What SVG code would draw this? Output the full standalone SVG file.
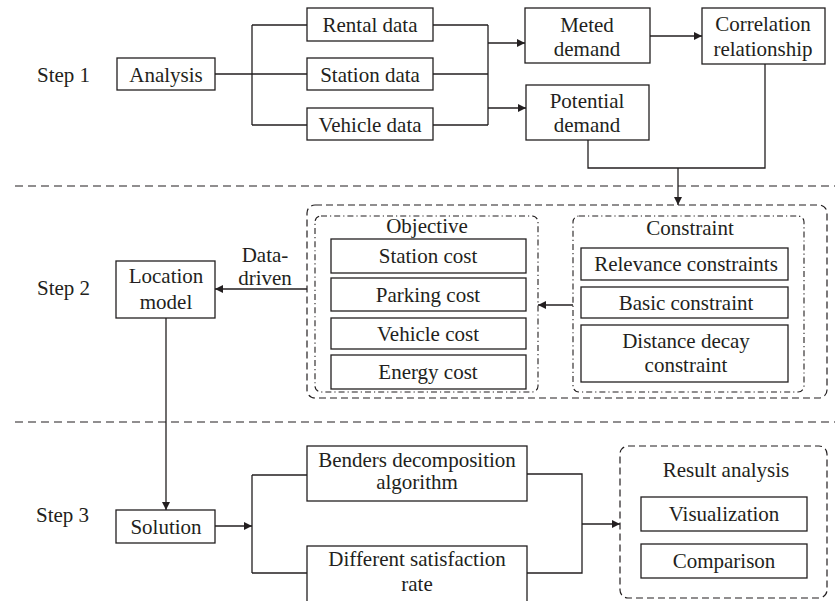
<svg xmlns="http://www.w3.org/2000/svg" width="835" height="601" viewBox="0 0 835 601">
<defs>
<marker id="ah" viewBox="0 0 10 10" refX="10" refY="5" markerWidth="8" markerHeight="8" markerUnits="userSpaceOnUse" orient="auto">
<path d="M0,0 L10,5 L0,10 Z" fill="#231f20"/>
</marker>
</defs>
<style>
text{font-family:"Liberation Serif","Times New Roman",serif;font-size:21px;fill:#231f20;text-anchor:middle}
.box{fill:#fff;stroke:#231f20;stroke-width:1.3}
.ln{fill:none;stroke:#231f20;stroke-width:1.3}
.arr{fill:none;stroke:#231f20;stroke-width:1.3;marker-end:url(#ah)}
.sep{fill:none;stroke:#231f20;stroke-width:1.2;stroke-dasharray:8 5}
.dash{fill:none;stroke:#231f20;stroke-width:1.2;stroke-dasharray:7 4}
.dd{fill:none;stroke:#231f20;stroke-width:1.1;stroke-dasharray:6 3 1.2 3}
.lbl{text-anchor:start}
</style>
<rect width="835" height="601" fill="#fff"/>
<g id="separators">
<line class="sep" x1="15" y1="186" x2="835" y2="186"/>
<line class="sep" x1="15" y1="422" x2="835" y2="422"/>
</g>
<g id="steps">
<text class="lbl" x="37" y="82">Step 1</text>
<text class="lbl" x="37" y="295">Step 2</text>
<text class="lbl" x="36" y="522">Step 3</text>
</g>
<g id="connectors">
<path class="ln" d="M215,74 H307 M252,25 V125 M252,25 H307 M252,125 H307"/>
<path class="ln" d="M433,25 H488 M433,74 H488 M433,125 H488 M488,25 V125"/>
<path class="arr" d="M488,43 H525"/>
<path class="arr" d="M488,108 H526"/>
<path class="arr" d="M650,36 H702"/>
<path class="ln" d="M588,140 V168 H765 V64"/>
<path class="arr" d="M678,168 V205"/>
<path class="arr" d="M307,289 H215"/>
<path class="arr" d="M573,305 H538"/>
<path class="arr" d="M166,318 V510"/>
<path class="arr" d="M215,526 H252"/>
<path class="ln" d="M252,475 V573 M252,475 H307 M252,573 H307"/>
<path class="ln" d="M527,474 H582 V573 H527"/>
<path class="arr" d="M582,524 H620"/>
</g>
<g id="analysis"><rect class="box" x="117" y="58" width="98" height="32"/><text x="166" y="82">Analysis</text></g>
<g id="rental"><rect class="box" x="307" y="8" width="126" height="33"/><text x="370" y="32">Rental data</text></g>
<g id="station"><rect class="box" x="307" y="58" width="126" height="32"/><text x="370" y="82">Station data</text></g>
<g id="vehicle"><rect class="box" x="307" y="108" width="126" height="32"/><text x="370" y="132">Vehicle data</text></g>
<g id="meted"><rect class="box" x="525" y="8" width="125" height="55"/><text x="587" y="32">Meted</text><text x="587" y="56">demand</text></g>
<g id="potential"><rect class="box" x="526" y="85" width="123" height="55"/><text x="587" y="108">Potential</text><text x="587" y="132">demand</text></g>
<g id="correlation"><rect class="box" x="702" y="8" width="123" height="56"/><text x="763" y="31">Correlation</text><text x="763" y="56">relationship</text></g>
<g id="model-group">
<rect class="dash" x="307" y="205" width="520" height="193" rx="8"/>
</g>
<g id="objective">
<rect class="dd" x="315" y="216" width="223" height="176" rx="6"/>
<text x="427" y="233">Objective</text>
</g>
<g id="station-cost"><rect class="box" x="331" y="239" width="195" height="34"/><text x="428" y="263">Station cost</text></g>
<g id="parking-cost"><rect class="box" x="331" y="278" width="195" height="33"/><text x="428" y="302">Parking cost</text></g>
<g id="vehicle-cost"><rect class="box" x="331" y="318" width="195" height="31"/><text x="428" y="341">Vehicle cost</text></g>
<g id="energy-cost"><rect class="box" x="331" y="355" width="195" height="34"/><text x="428" y="379">Energy cost</text></g>
<g id="constraint">
<rect class="dd" x="573" y="216" width="231" height="176" rx="6"/>
<text x="690" y="235">Constraint</text>
</g>
<g id="relevance"><rect class="box" x="581" y="248" width="207" height="32"/><text x="686" y="271">Relevance constraints</text></g>
<g id="basic"><rect class="box" x="581" y="287" width="207" height="31"/><text x="686" y="310">Basic constraint</text></g>
<g id="distance"><rect class="box" x="581" y="325" width="207" height="57"/><text x="686" y="348">Distance decay</text><text x="686" y="372">constraint</text></g>
<g id="location-model"><rect class="box" x="116" y="261" width="99" height="57"/><text x="166" y="283">Location</text><text x="166" y="309">model</text></g>
<g id="data-driven-label"><text x="265" y="262">Data-</text><text x="265" y="285">driven</text></g>
<g id="solution"><rect class="box" x="116" y="510" width="99" height="33"/><text x="166" y="534">Solution</text></g>
<g id="benders"><rect class="box" x="307" y="446" width="220" height="55"/><text x="417" y="467">Benders decomposition</text><text x="417" y="489">algorithm</text></g>
<g id="different"><rect class="box" x="307" y="546" width="220" height="60"/><text x="417" y="566">Different satisfaction</text><text x="417" y="591">rate</text></g>
<g id="result">
<rect class="dash" x="620" y="446" width="207" height="152" rx="8"/>
<text x="726" y="477">Result analysis</text>
</g>
<g id="visualization"><rect class="box" x="641" y="497" width="166" height="34"/><text x="724" y="521">Visualization</text></g>
<g id="comparison"><rect class="box" x="641" y="544" width="166" height="34"/><text x="724" y="568">Comparison</text></g>
</svg>
